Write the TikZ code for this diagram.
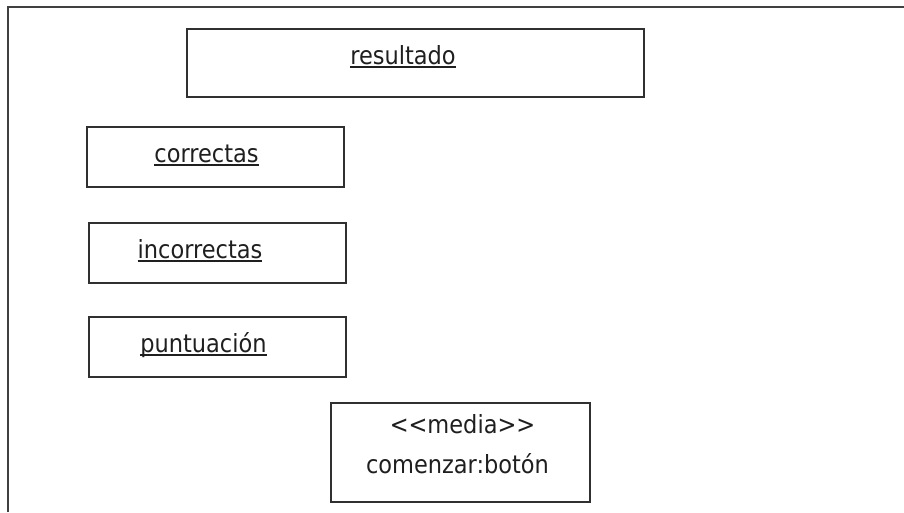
\documentclass[tikz,border=0pt]{standalone}
\usepackage{fontspec}
\newfontfamily\diafont{DejaVu Sans Condensed}
\usetikzlibrary{positioning}
\definecolor{linegray}{HTML}{303030}
\definecolor{framegray}{HTML}{404040}
% underlined text, rule kept just under the baseline
\newcommand\undl[1]{\leavevmode\setbox0\hbox{#1}\rlap{\copy0}\raisebox{-4pt}{\rule{\wd0}{2pt}}}

\begin{document}
\begin{tikzpicture}[x=1pt, y=-1pt,
    box/.style = {draw=linegray, line width=2pt, rectangle, inner sep=0pt},
    lbl/.style = {inner sep=0pt, anchor=base, text=black!88,
                  font=\diafont\fontsize{25}{30}\selectfont}]
        \useasboundingbox (0,0) rectangle (904,512);
        \draw[framegray, line width=2.6pt] (8,512) -- (8,7) -- (904,7);
        % boxes
        \node[box, minimum width=457, minimum height=68] (resultado) at (415.5,63) {};
        \node[box, minimum width=257, minimum height=60] (correctas) at (215.5,157) {};
        \node[box, minimum width=257, minimum height=60] (incorrectas) at (217.5,253) {};
        \node[box, minimum width=257, minimum height=60] (puntuacion) at (217.5,347) {};
        \node[box, minimum width=259, minimum height=99] (boton) at (460.5,452.5) {};
        % texts
        \node[lbl] (resultado-t) at (403,64) {\undl{resultado}};
        \node[lbl] (correctas-t) at (206.5,162) {\undl{correctas}};
        \node[lbl] (incorrectas-t) at (200,258) {\undl{incorrectas}};
        \node[lbl] (puntuacion-t) at (203.5,352) {\undl{puntuación}};
        \node[lbl] (boton-s) at (462.5,433) {{<}{<}media{>}{>}};
        \node[lbl] (boton-t) at (457.5,473) {comenzar:botón};
    \end{tikzpicture}
\end{document}
